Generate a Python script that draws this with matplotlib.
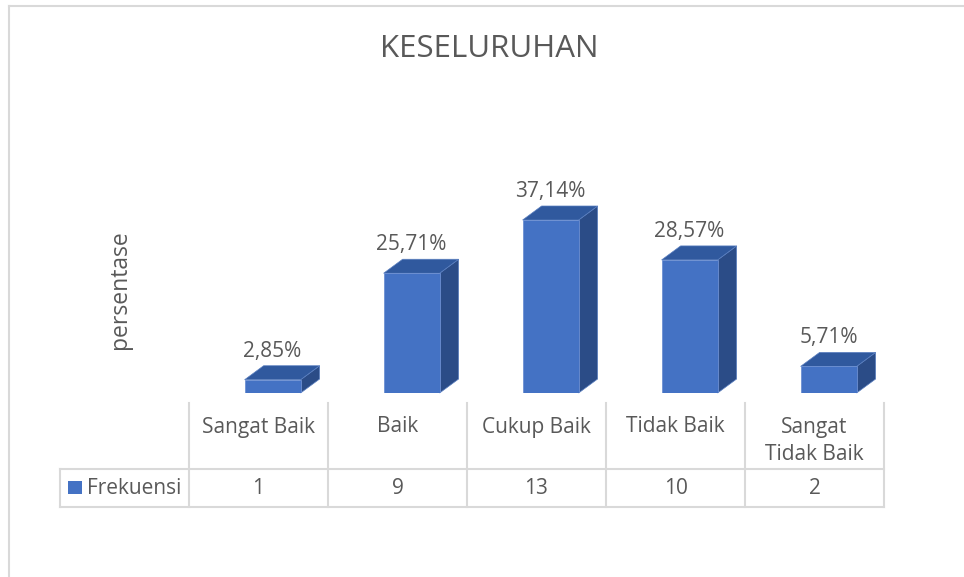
import matplotlib.pyplot as plt
from matplotlib.patches import Polygon, Rectangle
from matplotlib.lines import Line2D

# data
categories = ["Sangat Baik", "Baik", "Cukup Baik", "Tidak Baik", "Sangat\nTidak Baik"]
persen = [2.85, 25.71, 37.14, 28.57, 5.71]
frekuensi = [1, 9, 13, 10, 2]
series_name = "Frekuensi"

FRONT = "#4472C4"
SIDE = "#2B4C87"
TOP = "#30599E"
GRID = "#D9D9D9"
TXT = "#595959"

plt.rcParams["font.family"] = ["Open Sans", "DejaVu Sans"]

W, H = 964, 577
fig = plt.figure(figsize=(W / 100, H / 100), dpi=100)

# overlay in pixel coords for frame + data table
ov = fig.add_axes([0, 0, 1, 1])
ov.set_xlim(0, W)
ov.set_ylim(H, 0)
ov.axis("off")

# main axes: x in category units, y in percent
x0, x1 = 189, 884
ybase, ytop = 393, 100
px_per_pct = (ybase - 220) / 37.14
ax = fig.add_axes([x0 / W, (H - ybase) / H, (x1 - x0) / W, (ybase - ytop) / H])
ax.set_xlim(0, len(categories))
ax.set_ylim(0, (ybase - ytop) / px_per_pct)
ax.axis("off")

face_off, face_w = 0.40, 0.403
dx, dy = 19 / 139, 14 / px_per_pct

for i, v in enumerate(persen):
    left = i + face_off
    right = left + face_w
    ax.add_patch(Polygon([(right, 0), (right + dx, dy), (right + dx, v + dy), (right, v)],
                         closed=True, facecolor=SIDE, edgecolor="#5a7fc0", lw=0.5, clip_on=False))
    ax.add_patch(Polygon([(left, v), (right, v), (right + dx, v + dy), (left + dx, v + dy)],
                         closed=True, facecolor=TOP, edgecolor="#5a7fc0", lw=0.5, clip_on=False))
    ax.bar(left, v, width=face_w, align="edge", color=FRONT, edgecolor="#6d90d2", lw=0.6)
    ax.text(left + face_w / 2, v + dy + 0.9, f"{v:.2f}%".replace(".", ","),
            ha="center", va="bottom", fontsize=15, color=TXT)

# chart frame (left and top only visible)
ov.add_line(Line2D([9, 9], [6, H], color=GRID, lw=1.5))
ov.add_line(Line2D([9, W], [6, 6], color=GRID, lw=1.5))

# title and axis label
ov.text(489, 49, "KESELURUHAN", ha="center", va="center", fontsize=22.5, color=TXT)
ov.text(120, 290, "persentase", ha="center", va="center", rotation=90, fontsize=16.5, color=TXT)

# data table
colw = (x1 - x0) / len(categories)
t_top, t_mid, t_bot = 403, 469, 507
leg_left = 60
for k in range(len(categories) + 1):
    xx = x0 + k * colw
    ov.add_line(Line2D([xx, xx], [t_top, t_bot], color=GRID, lw=1.5))
ov.add_line(Line2D([leg_left, x1], [t_mid, t_mid], color=GRID, lw=1.5))
ov.add_line(Line2D([leg_left, x1], [t_bot, t_bot], color=GRID, lw=1.5))
ov.add_line(Line2D([leg_left, leg_left], [t_mid, t_bot], color=GRID, lw=1.5))

for k, (c, f) in enumerate(zip(categories, frekuensi)):
    cx = x0 + (k + 0.5) * colw
    cy = 441 if "\n" in c else 427
    ov.text(cx, cy, c, ha="center", va="center", fontsize=15, color=TXT, linespacing=1.35)
    ov.text(cx, 488, str(f), ha="center", va="center", fontsize=15, color=TXT)

ov.add_patch(Rectangle((68, 481), 14, 13, facecolor=FRONT, edgecolor="none"))
ov.text(87, 488, series_name, ha="left", va="center", fontsize=15, color=TXT)

fig.savefig("out.png", dpi=100)
